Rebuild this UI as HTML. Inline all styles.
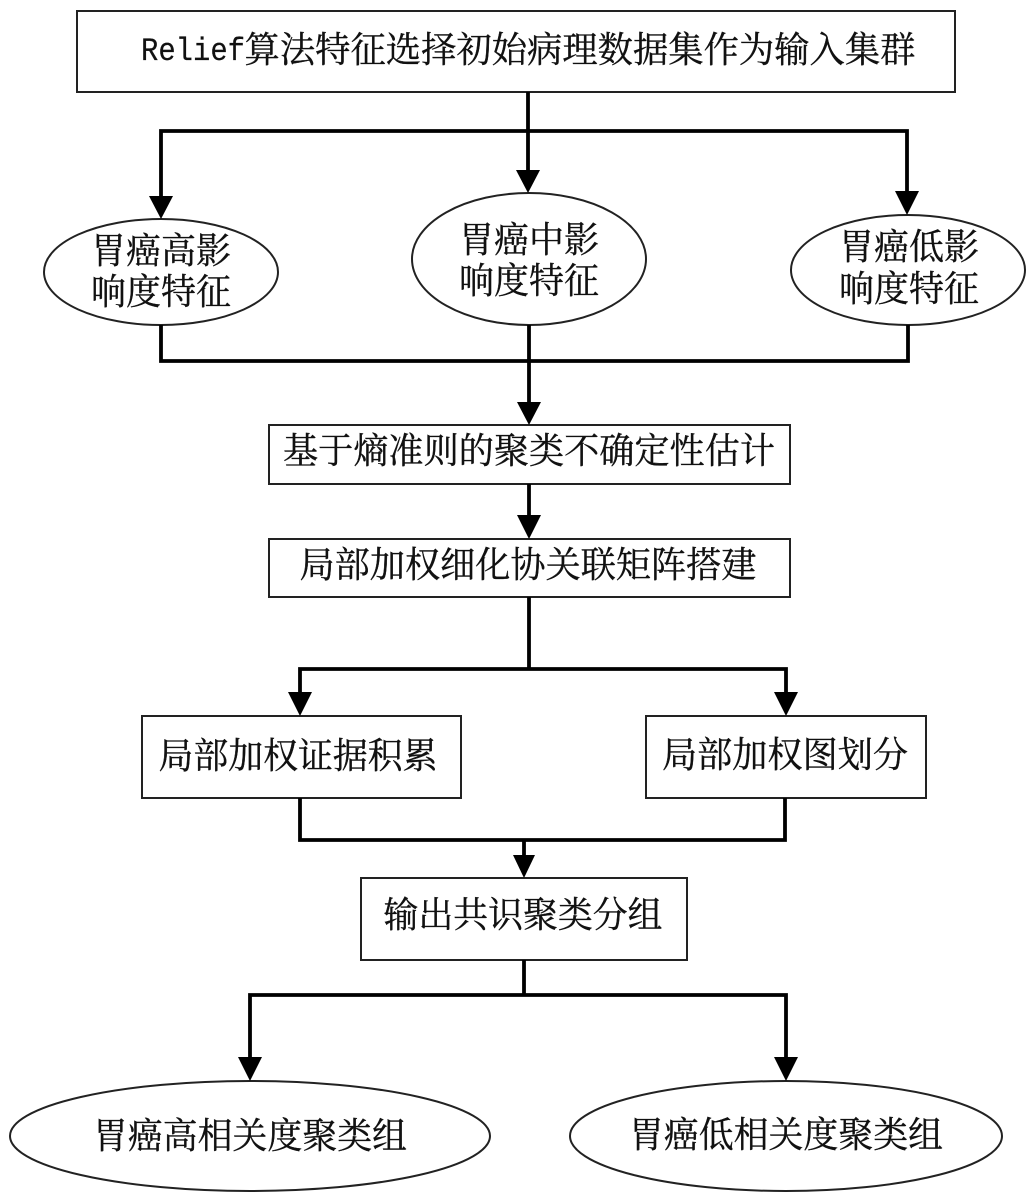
<!DOCTYPE html>
<html>
<head>
<meta charset="utf-8">
<style>
html,body{margin:0;padding:0;background:#fff;width:1034px;height:1201px;overflow:hidden}
svg{display:block}
text{font-family:"Noto Serif CJK SC","Noto Sans CJK SC",serif;font-size:36px;fill:#111;stroke:#111;stroke-width:.35;text-anchor:middle}
text.m{font-family:"Liberation Mono",monospace;font-size:32px;stroke-width:.2;text-anchor:start}
</style>
</head>
<body>
<svg width="1034" height="1201" viewBox="0 0 1034 1201" xmlns="http://www.w3.org/2000/svg">
<g fill="#fff" stroke="#222" stroke-width="2">
<rect x="77" y="11" width="878" height="81"/>
<ellipse cx="161" cy="272" rx="117" ry="53"/>
<ellipse cx="529" cy="259" rx="117" ry="66"/>
<ellipse cx="908" cy="270" rx="117" ry="55"/>
<rect x="269" y="425" width="521" height="59"/>
<rect x="269" y="539" width="521" height="58"/>
<rect x="142" y="716" width="319" height="82"/>
<rect x="646" y="716" width="280" height="82"/>
<rect x="361" y="878" width="326" height="82"/>
<ellipse cx="250" cy="1136" rx="240" ry="55"/>
<ellipse cx="786" cy="1136" rx="216" ry="55"/>
</g>
<g fill="none" stroke="#000" stroke-width="3.8">
<path d="M528,92 V175"/>
<path d="M161,200 V131 H907 V194"/>
<path d="M161,325 V361 H908 V325"/>
<path d="M529,325 V405"/>
<path d="M529,484 V519"/>
<path d="M529,597 V669"/>
<path d="M300,695 V669 H786 V695"/>
<path d="M300,798 V840 H785 V798"/>
<path d="M524,840 V858"/>
<path d="M524,960 V995"/>
<path d="M250,1060 V995 H786 V1060"/>
</g>
<g fill="#000">
<path d="M516,170 L540,170 L528,193 Z"/>
<path d="M149,196 L173,196 L161,219 Z"/>
<path d="M895,191 L919,191 L907,215 Z"/>
<path d="M517,402 L541,402 L529,425 Z"/>
<path d="M517,515 L541,515 L529,539 Z"/>
<path d="M288,692 L312,692 L300,716 Z"/>
<path d="M774,692 L798,692 L786,716 Z"/>
<path d="M513,855 L535,855 L524,878 Z"/>
<path d="M238,1057 L262,1057 L250,1081 Z"/>
<path d="M774,1057 L798,1057 L786,1081 Z"/>
</g>
<text class="m" x="141" y="60" textLength="104" lengthAdjust="spacingAndGlyphs">Relief</text>
<text x="580" y="62" textLength="671" lengthAdjust="spacingAndGlyphs">算法特征选择初始病理数据集作为输入集群</text>
<text x="161" y="263" textLength="140" lengthAdjust="spacingAndGlyphs">胃癌高影</text>
<text x="161" y="304" textLength="140" lengthAdjust="spacingAndGlyphs">响度特征</text>
<text x="529" y="252" textLength="140" lengthAdjust="spacingAndGlyphs">胃癌中影</text>
<text x="529" y="293" textLength="140" lengthAdjust="spacingAndGlyphs">响度特征</text>
<text x="909" y="259" textLength="140" lengthAdjust="spacingAndGlyphs">胃癌低影</text>
<text x="909" y="301" textLength="140" lengthAdjust="spacingAndGlyphs">响度特征</text>
<text x="529" y="463" textLength="492" lengthAdjust="spacingAndGlyphs">基于熵准则的聚类不确定性估计</text>
<text x="528" y="577" textLength="457" lengthAdjust="spacingAndGlyphs">局部加权细化协关联矩阵搭建</text>
<text x="298" y="768" textLength="279" lengthAdjust="spacingAndGlyphs">局部加权证据积累</text>
<text x="785" y="767" textLength="246" lengthAdjust="spacingAndGlyphs">局部加权图划分</text>
<text x="523" y="927" textLength="279" lengthAdjust="spacingAndGlyphs">输出共识聚类分组</text>
<text x="250" y="1148" textLength="314" lengthAdjust="spacingAndGlyphs">胃癌高相关度聚类组</text>
<text x="786" y="1147" textLength="314" lengthAdjust="spacingAndGlyphs">胃癌低相关度聚类组</text>
</svg>
</body>
</html>
